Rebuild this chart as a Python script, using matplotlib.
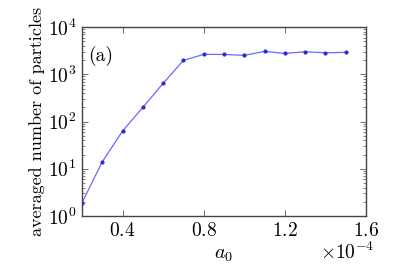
import matplotlib
matplotlib.use("Agg")
import matplotlib.pyplot as plt
from matplotlib.ticker import LogLocator, FixedLocator, ScalarFormatter

plt.rcParams['font.family'] = 'serif'
plt.rcParams['font.serif'] = ['cmr10']
plt.rcParams['mathtext.fontset'] = 'cm'
plt.rcParams['axes.formatter.use_mathtext'] = True
plt.rcParams['axes.unicode_minus'] = True

a0 = [0.2e-4, 0.3e-4, 0.4e-4, 0.5e-4, 0.6e-4, 0.7e-4, 0.8e-4, 0.9e-4,
      1.0e-4, 1.1e-4, 1.2e-4, 1.3e-4, 1.4e-4, 1.5e-4]
particles = [1.9, 14.1, 63, 200, 643, 1973, 2640, 2640,
             2520, 3057, 2775, 3000, 2860, 2915]
xticks = [0.4e-4, 0.8e-4, 1.2e-4, 1.6e-4]

fig = plt.figure(figsize=(4.07, 2.71), dpi=100)
ax = fig.add_axes([0.2015, 0.203, 0.6975, 0.697])
ax.plot(a0, particles, '-', color='#6a6aff', lw=0.9, zorder=2)
ax.plot(a0, particles, 'o', color='#2b2bd0', ms=2.0, mec='#2b2bd0', zorder=3)
ax.set_yscale('log')
ax.set_xlim(0.2e-4, 1.6e-4)
ax.set_ylim(1, 1e4)
ax.xaxis.set_major_locator(FixedLocator(xticks))
fmt = ScalarFormatter(useMathText=True)
fmt.set_powerlimits((0, 0))
ax.xaxis.set_major_formatter(fmt)
ax.xaxis.get_offset_text().set_visible(False)
ax.yaxis.set_major_locator(LogLocator(base=10, numticks=10))
ax.yaxis.set_minor_locator(LogLocator(base=10, subs=range(2, 10), numticks=10))
ax.tick_params(which='both', direction='in', top=True, right=True, labelsize=14, pad=4)
ax.tick_params(which='major', length=4, width=0.6, color='#555555')
ax.tick_params(which='minor', length=2, width=0.5, color='#555555')
for s in ax.spines.values():
    s.set_color('#444444')
    s.set_linewidth(1.0)
ax.set_xlabel(r'$a_0$', fontsize=14.5, labelpad=5)
ax.set_ylabel('averaged number of particles', fontsize=13, labelpad=2)
ax.text(1.03, -0.135, r'$\times10^{-4}$', transform=ax.transAxes, fontsize=14,
        ha='right', va='top')
ax.text(0.02, 0.82, '(a)', transform=ax.transAxes, fontsize=14)
fig.savefig('out.png', dpi=100)
